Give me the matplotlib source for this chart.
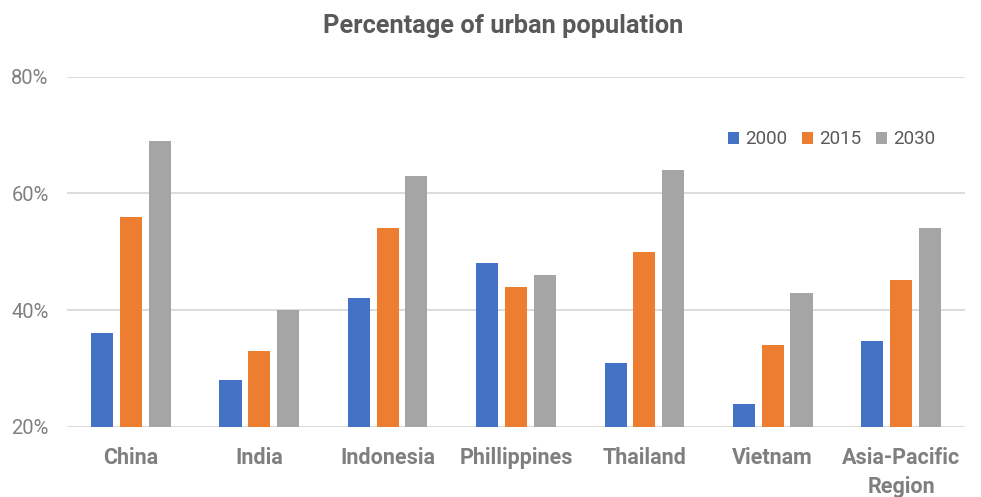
import matplotlib.pyplot as plt
import numpy as np

plt.rcParams['font.family'] = ['Roboto', 'DejaVu Sans']

regions = ["China", "India", "Indonesia", "Phillippines", "Thailand",
           "Vietnam", "Asia-Pacific\nRegion"]
years = ["2000", "2015", "2030"]
urban_2000 = [36, 28, 42, 48, 31, 24, 34.7]
urban_2015 = [56, 33, 54, 44, 50, 34, 45.1]
urban_2030 = [69, 40, 63, 46, 64, 43, 54]

colors = ["#4472c4", "#ed7d31", "#a5a5a5"]
series = [urban_2000, urban_2015, urban_2030]

fig = plt.figure(figsize=(9.81, 4.97), dpi=100)
ax = fig.add_axes([0.068, 0.141, 0.916, 0.705])

x = np.arange(len(regions))
step = 0.224
width = 0.172
for i, (vals, name) in enumerate(zip(series, years)):
    ax.bar(x + (i - 1) * step, np.array(vals) - 20, width=width, bottom=20,
           color=colors[i], label=name, zorder=3)

ax.set_xlim(-0.5, len(regions) - 0.5)
ax.set_ylim(20, 80)
ax.set_yticks([20, 40, 60, 80])
ax.set_yticklabels([f"{v}%" for v in [20, 40, 60, 80]])
ax.set_xticks(x)
ax.set_xticklabels(regions, fontweight='bold', fontsize=15.5, color='#7f7f7f',
                   linespacing=1.4)
ax.grid(axis='y', color='#d9d9d9', linewidth=1.3, zorder=0)
for s in ax.spines.values():
    s.set_visible(False)
ax.tick_params(axis='both', length=0)
ax.tick_params(axis='y', labelsize=14.5, labelcolor='#808080', pad=13)
ax.tick_params(axis='x', pad=14.5)

fig.text(0.513, 0.948, "Percentage of urban population", ha='center', va='center',
         fontsize=18.3, fontweight='bold', color='#595959')

ax.legend(loc='upper left', bbox_to_anchor=(0.717, 0.895), ncol=3, frameon=False,
          fontsize=13.5, handlelength=0.6, handleheight=0.6, handletextpad=0.3,
          columnspacing=0.8, labelcolor='#595959')

fig.savefig("out.png", dpi=100)
